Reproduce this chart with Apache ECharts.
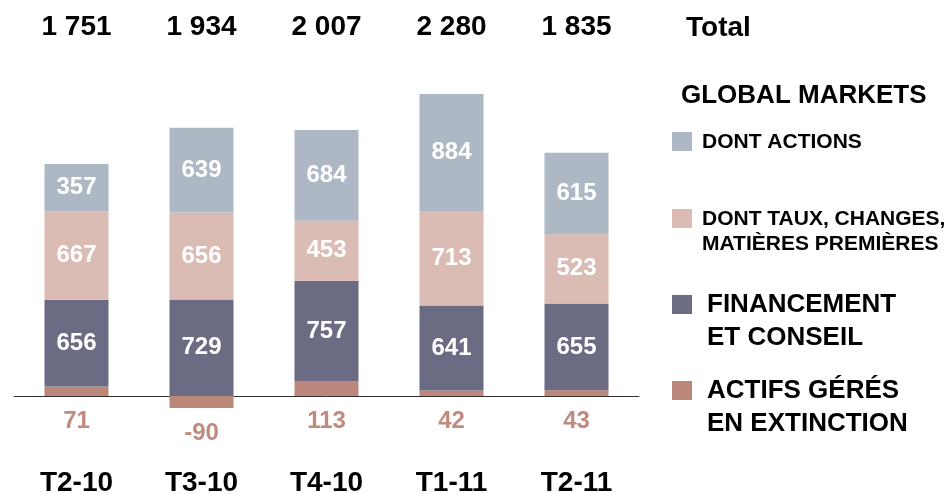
<!DOCTYPE html>
<html>
<head>
<meta charset="utf-8">
<script src="https://cdn.jsdelivr.net/npm/echarts@6/dist/echarts.min.js"></script>
<style>
  html, body { margin: 0; padding: 0; background: #fff; }
  #chart { width: 952px; height: 494px; }
</style>
</head>
<body>
<div id="chart"></div>
<script>
// Quarterly revenue breakdown (stacked), in millions of euros
const quarters = ['T2-10', 'T3-10', 'T4-10', 'T1-11', 'T2-11'];
const totals = [1751, 1934, 2007, 2280, 1835];
const actifsGeres = [71, -90, 113, 42, 43];
const financement = [656, 729, 757, 641, 655];
const tauxChanges = [667, 656, 453, 713, 523];
const actions = [357, 639, 684, 884, 615];

const FONT = "'Liberation Sans', Arial, sans-serif";
const colors = {
  actions: '#adb8c4',
  taux: '#dbbcb4',
  financement: '#6b6c83',
  actifs: '#bb877b',
  actifsText: '#c08a7e'
};

// French thousands formatting: "1 751"
function fmt(v) {
  return String(v).replace(/\B(?=(\d{3})+(?!\d))/g, ' ');
}

const innerLabel = {
  show: true,
  position: 'inside',
  color: '#fff',
  fontFamily: FONT,
  fontWeight: 'bold',
  fontSize: 24
};

const chart = echarts.init(document.getElementById('chart'), null, { renderer: 'canvas' });

// Legend block on the right
const legendItems = [
  { color: colors.actions, lines: ['DONT ACTIONS'], size: 21, lh: 25, y: 142 },
  { color: colors.taux, lines: ['DONT TAUX, CHANGES,', 'MATIÈRES PREMIÈRES'], size: 21, lh: 25, y: 219 },
  { color: colors.financement, lines: ['FINANCEMENT', 'ET CONSEIL'], size: 26, lh: 33, y: 305 },
  { color: colors.actifs, lines: ['ACTIFS GÉRÉS', 'EN EXTINCTION'], size: 26, lh: 33, y: 391 }
];
const graphics = [
  {
    type: 'text', left: 686, top: 14,
    style: { text: 'Total', fill: '#000', font: 'bold 28px ' + FONT }
  },
  {
    type: 'text', left: 681, top: 83,
    style: { text: 'GLOBAL MARKETS', fill: '#000', font: 'bold 26px ' + FONT }
  }
];
legendItems.forEach(function (it) {
  graphics.push({
    type: 'rect',
    shape: { x: 672, y: it.y - 10, width: 20, height: 19 },
    style: { fill: it.color }
  });
  graphics.push({
    type: 'text',
    x: it.size > 22 ? 707 : 702,
    y: it.y - it.lh / 2,
    style: {
      text: it.lines.join('\n'),
      fill: '#000',
      font: 'bold ' + it.size + 'px ' + FONT,
      lineHeight: it.lh,
      verticalAlign: 'top'
    }
  });
});

chart.setOption({
  animation: false,
  grid: {
    left: 14, right: 313, top: 78, bottom: 45,
    containLabel: false,
    outerBoundsMode: 'none'
  },
  xAxis: [
    {
      type: 'category',
      data: quarters,
      axisLine: { onZero: true, lineStyle: { color: '#333', width: 1 } },
      axisTick: { show: false },
      axisLabel: {
        margin: 20,
        color: '#000',
        fontFamily: FONT,
        fontWeight: 'bold',
        fontSize: 28
      }
    },
    {
      type: 'category',
      position: 'top',
      data: totals.map(fmt),
      axisLine: { show: false },
      axisTick: { show: false },
      axisLabel: {
        margin: 37,
        color: '#000',
        fontFamily: FONT,
        fontWeight: 'bold',
        fontSize: 28
      }
    }
  ],
  yAxis: {
    type: 'value',
    min: -400,
    max: 2400,
    show: false,
    splitLine: { show: false }
  },
  graphic: graphics,
  series: [
    {
      name: 'ACTIFS GÉRÉS EN EXTINCTION',
      type: 'bar',
      stack: 'total',
      barWidth: 64,
      data: actifsGeres,
      itemStyle: { color: colors.actifs },
      label: {
        show: true,
        position: 'bottom',
        distance: 13,
        color: colors.actifsText,
        fontFamily: FONT,
        fontWeight: 'bold',
        fontSize: 24
      }
    },
    {
      name: 'FINANCEMENT ET CONSEIL',
      type: 'bar',
      stack: 'total',
      barWidth: 64,
      data: financement,
      itemStyle: { color: colors.financement },
      label: innerLabel
    },
    {
      name: 'DONT TAUX, CHANGES, MATIÈRES PREMIÈRES',
      type: 'bar',
      stack: 'total',
      barWidth: 64,
      data: tauxChanges,
      itemStyle: { color: colors.taux },
      label: innerLabel
    },
    {
      name: 'DONT ACTIONS',
      type: 'bar',
      stack: 'total',
      barWidth: 64,
      data: actions,
      itemStyle: { color: colors.actions },
      label: innerLabel
    }
  ]
});
</script>
</body>
</html>
